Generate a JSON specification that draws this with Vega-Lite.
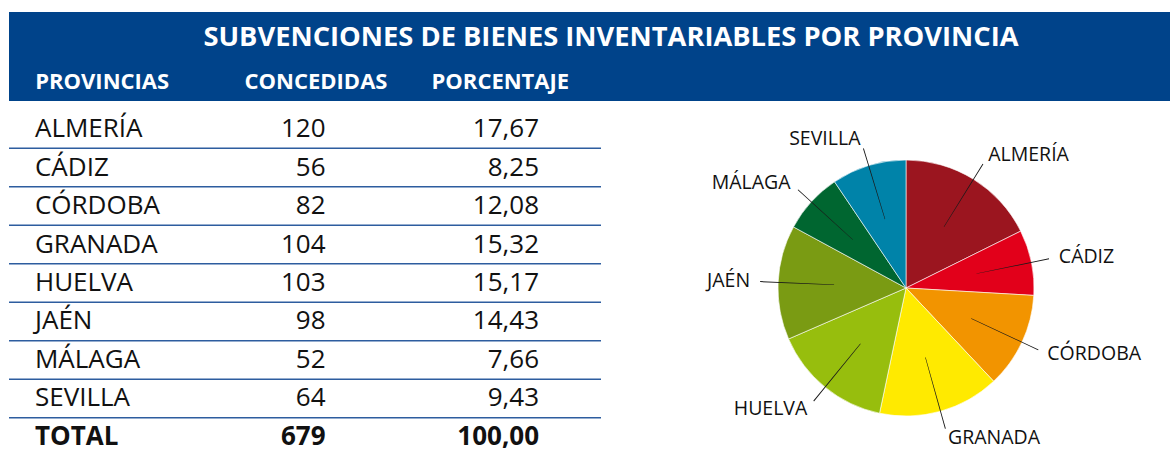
{
  "$schema": "https://vega.github.io/schema/vega-lite/v6.json",
  "padding": {"left": 8, "top": 12, "right": 0, "bottom": 0},
  "background": "white",
  "config": {"view": {"stroke": null}, "font": "Open Sans"},
  "datasets": {
    "tabla": [
      {"n": 1, "provincia": "ALMERÍA", "concedidas": 120, "porcentaje": 17.67},
      {"n": 2, "provincia": "CÁDIZ", "concedidas": 56, "porcentaje": 8.25},
      {"n": 3, "provincia": "CÓRDOBA", "concedidas": 82, "porcentaje": 12.08},
      {"n": 4, "provincia": "GRANADA", "concedidas": 104, "porcentaje": 15.32},
      {"n": 5, "provincia": "HUELVA", "concedidas": 103, "porcentaje": 15.17},
      {"n": 6, "provincia": "JAÉN", "concedidas": 98, "porcentaje": 14.43},
      {"n": 7, "provincia": "MÁLAGA", "concedidas": 52, "porcentaje": 7.66},
      {"n": 8, "provincia": "SEVILLA", "concedidas": 64, "porcentaje": 9.43},
      {"n": 9, "provincia": "TOTAL", "concedidas": 679, "porcentaje": 100.0}
    ],
    "cabecera": [
      {"col": "PROVINCIAS"},
      {"col": "CONCEDIDAS"},
      {"col": "PORCENTAJE"}
    ]
  },
  "spacing": 12,
  "vconcat": [
    {
      "width": 1162,
      "height": 89,
      "view": {"fill": "#00438a", "stroke": null},
      "data": {"name": "cabecera"},
      "layer": [
        {
          "data": {"values": [{"titulo": "SUBVENCIONES DE BIENES INVENTARIABLES POR PROVINCIA"}]},
          "mark": {"type": "text", "font": "Open Sans", "fontWeight": "bold", "fontSize": 27.3, "color": "white", "baseline": "middle", "align": "center", "dx": 21, "dy": -18.5},
          "encoding": {"text": {"field": "titulo"}}
        },
        {
          "transform": [{"filter": "datum.col == 'PROVINCIAS'"}],
          "mark": {"type": "text", "fontWeight": "bold", "fontSize": 22, "color": "white", "baseline": "middle", "align": "center", "dx": -5.5, "dy": 25.5},
          "encoding": {
            "x": {"field": "col", "type": "nominal", "axis": null, "scale": {"type": "band", "domain": ["PROVINCIAS", "CONCEDIDAS", "PORCENTAJE"], "range": [0, 592], "paddingInner": 0, "paddingOuter": 0}},
            "text": {"field": "col"}
          }
        },
        {
          "transform": [{"filter": "datum.col == 'CONCEDIDAS'"}],
          "mark": {"type": "text", "fontWeight": "bold", "fontSize": 22, "color": "white", "baseline": "middle", "align": "center", "dx": 11, "dy": 25.5},
          "encoding": {
            "x": {"field": "col", "type": "nominal", "axis": null, "scale": {"type": "band", "domain": ["PROVINCIAS", "CONCEDIDAS", "PORCENTAJE"], "range": [0, 592], "paddingInner": 0, "paddingOuter": 0}},
            "text": {"field": "col"}
          }
        },
        {
          "transform": [{"filter": "datum.col == 'PORCENTAJE'"}],
          "mark": {"type": "text", "fontWeight": "bold", "fontSize": 22, "color": "white", "baseline": "middle", "align": "center", "dx": -2, "dy": 25.5},
          "encoding": {
            "x": {"field": "col", "type": "nominal", "axis": null, "scale": {"type": "band", "domain": ["PROVINCIAS", "CONCEDIDAS", "PORCENTAJE"], "range": [0, 592], "paddingInner": 0, "paddingOuter": 0}},
            "text": {"field": "col"}
          }
        }
      ]
    },
    {
      "spacing": 38,
      "hconcat": [
        {
          "width": 592,
          "height": 340,
          "data": {"name": "tabla"},
          "transform": [
            {"calculate": "replace(format(datum.porcentaje, '.2f'), '.', ',')", "as": "pct_txt"}
          ],
          "encoding": {
            "y": {"field": "provincia", "type": "nominal", "sort": null, "axis": null, "scale": {"type": "point", "padding": 0.416}}
          },
          "layer": [
            {
              "transform": [{"filter": "datum.n <= 8"}],
              "mark": {"type": "rule", "color": "#2d5d9f", "strokeWidth": 1.5, "yOffset": 19.25}
            },
            {
              "transform": [{"filter": "datum.n <= 8"}],
              "mark": {"type": "text", "fontSize": 26, "color": "#111111", "baseline": "middle", "align": "left", "dx": -72.7},
              "encoding": {
                "x": {"datum": "PROVINCIAS", "type": "nominal", "axis": null, "scale": {"type": "band", "domain": ["PROVINCIAS", "CONCEDIDAS", "PORCENTAJE"], "paddingInner": 0, "paddingOuter": 0}},
                "text": {"field": "provincia"}
              }
            },
            {
              "transform": [{"filter": "datum.n <= 8"}],
              "mark": {"type": "text", "fontSize": 26, "color": "#111111", "baseline": "middle", "align": "right", "dx": 20.6},
              "encoding": {
                "x": {"datum": "CONCEDIDAS", "type": "nominal", "axis": null, "scale": {"type": "band", "domain": ["PROVINCIAS", "CONCEDIDAS", "PORCENTAJE"], "paddingInner": 0, "paddingOuter": 0}},
                "text": {"field": "concedidas", "type": "quantitative", "format": "d"}
              }
            },
            {
              "transform": [{"filter": "datum.n <= 8"}],
              "mark": {"type": "text", "fontSize": 26, "color": "#111111", "baseline": "middle", "align": "right", "dx": 36.7},
              "encoding": {
                "x": {"datum": "PORCENTAJE", "type": "nominal", "axis": null, "scale": {"type": "band", "domain": ["PROVINCIAS", "CONCEDIDAS", "PORCENTAJE"], "paddingInner": 0, "paddingOuter": 0}},
                "text": {"field": "pct_txt"}
              }
            },
            {
              "transform": [{"filter": "datum.n == 9"}],
              "mark": {"type": "text", "fontSize": 26, "fontWeight": "bold", "color": "#111111", "baseline": "middle", "align": "left", "dx": -72.7},
              "encoding": {
                "x": {"datum": "PROVINCIAS", "type": "nominal", "axis": null},
                "text": {"field": "provincia"}
              }
            },
            {
              "transform": [{"filter": "datum.n == 9"}],
              "mark": {"type": "text", "fontSize": 26, "fontWeight": "bold", "color": "#111111", "baseline": "middle", "align": "right", "dx": 20.6},
              "encoding": {
                "x": {"datum": "CONCEDIDAS", "type": "nominal", "axis": null},
                "text": {"field": "concedidas", "type": "quantitative", "format": "d"}
              }
            },
            {
              "transform": [{"filter": "datum.n == 9"}],
              "mark": {"type": "text", "fontSize": 26, "fontWeight": "bold", "color": "#111111", "baseline": "middle", "align": "right", "dx": 36.7},
              "encoding": {
                "x": {"datum": "PORCENTAJE", "type": "nominal", "axis": null},
                "text": {"field": "pct_txt"}
              }
            }
          ]
        },
        {
          "width": 532,
          "height": 340,
          "data": {"name": "tabla"},
          "transform": [
            {"filter": "datum.n <= 8"},
            {"window": [{"op": "sum", "field": "concedidas", "as": "cum"}], "sort": [{"field": "n"}], "frame": [null, 0]},
            {"calculate": "datum.cum - datum.concedidas / 2", "as": "mid"},
            {"calculate": "datum.mid - 0.35", "as": "a1"},
            {"calculate": "datum.mid + 0.35", "as": "a2"}
          ],
          "layer": [
            {
              "mark": {"type": "arc", "outerRadius": 128, "yOffset": 5, "stroke": "#ffffff", "strokeWidth": 0.6},
              "encoding": {
                "theta": {"field": "concedidas", "type": "quantitative", "stack": true},
                "order": {"field": "n", "type": "quantitative"},
                "color": {
                  "field": "provincia",
                  "type": "nominal",
                  "legend": null,
                  "scale": {
                    "domain": ["ALMERÍA", "CÁDIZ", "CÓRDOBA", "GRANADA", "HUELVA", "JAÉN", "MÁLAGA", "SEVILLA"],
                    "range": ["#9b151f", "#e2001a", "#f29400", "#ffea00", "#97be0d", "#7a9b13", "#006630", "#0083a9"]
                  }
                }
              }
            },
            {
              "mark": {"type": "arc", "innerRadius": 72, "outerRadius": 146, "color": "#1a1a1a", "yOffset": 5},
              "encoding": {
                "theta": {"field": "a1", "type": "quantitative", "stack": null},
                "theta2": {"field": "a2"}
              }
            },
            {
              "transform": [{"filter": "datum.mid < 339.5"}],
              "mark": {"type": "text", "radius": 156, "align": "left", "baseline": "middle", "fontSize": 19.5, "color": "#111111", "yOffset": 5},
              "encoding": {
                "theta": {"field": "mid", "type": "quantitative", "stack": null},
                "text": {"field": "provincia"}
              }
            },
            {
              "transform": [{"filter": "datum.mid >= 339.5"}],
              "mark": {"type": "text", "radius": 156, "align": "right", "baseline": "middle", "fontSize": 19.5, "color": "#111111", "yOffset": 5},
              "encoding": {
                "theta": {"field": "mid", "type": "quantitative", "stack": null},
                "text": {"field": "provincia"}
              }
            }
          ]
        }
      ]
    }
  ]
}
